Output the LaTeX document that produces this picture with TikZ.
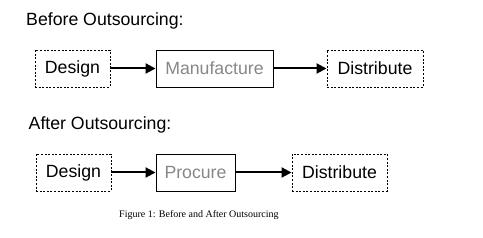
\documentclass[tikz,border=0pt]{standalone}
\usepackage{fontspec}
\setmainfont{Liberation Sans}
\newfontfamily\capfont{Liberation Serif}
\usetikzlibrary{arrows.meta,positioning}
\definecolor{procgray}{RGB}{135,135,135}

\begin{document}
\begin{tikzpicture}[x=1pt,y=-1pt,>={Triangle[length=10pt,width=10pt]},
    font=\fontsize{17.7}{20}\selectfont,
    stagebox/.style={draw,line width=0.9pt,minimum height=37pt,inner sep=0pt},
    ownbox/.style={stagebox,dash pattern=on 2pt off 1.6pt},
    outbox/.style={stagebox,text=procgray},
    flow/.style={->,line width=2pt}]
  \useasboundingbox (0,0) rectangle (483,238);
  % before outsourcing
  \node[anchor=base west,inner sep=0pt] (titleA) at (26,26) {Before Outsourcing:};
  \node[ownbox,minimum width=75pt]  (designA) at (72.5,68.5) {Design};
  \node[outbox,minimum width=117pt] (manuf)   at (214.5,68.5) {Manufacture};
  \node[ownbox,minimum width=96pt]  (distA)   at (375,68.5) {Distribute};
  \draw[flow] (designA) -- (manuf);
  \draw[flow] (manuf) -- (distA);
  % after outsourcing
  \node[anchor=base west,inner sep=0pt] (titleB) at (28.5,130) {After Outsourcing:};
  \node[ownbox,minimum width=75pt] (designB) at (73.5,172.5) {Design};
  \node[outbox,minimum width=79pt] (procure) at (195.5,172.5) {Procure};
  \node[ownbox,minimum width=95pt] (distB)   at (339.5,172.5) {Distribute};
  \draw[flow] (designB) -- (procure);
  \draw[flow] (procure) -- (distB);
  % caption
  \node[anchor=base west,inner sep=0pt,font=\capfont\fontsize{10}{12}\selectfont]
      (caption) at (119,218) {Figure 1: Before and After Outsourcing};
\end{tikzpicture}
\end{document}
